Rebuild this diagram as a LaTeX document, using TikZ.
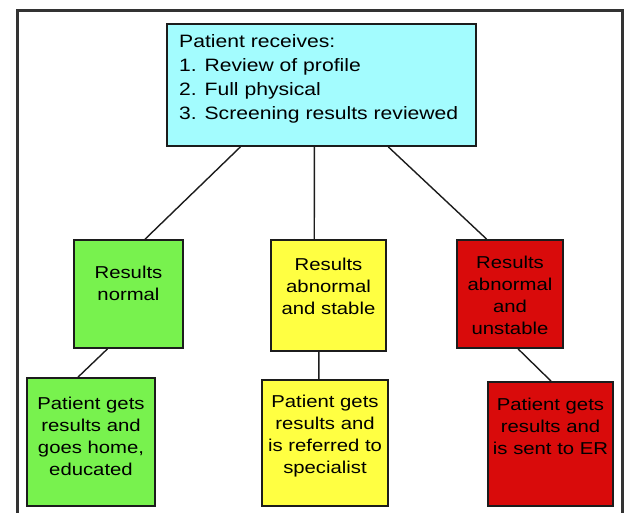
\documentclass[tikz,border=0pt]{standalone}
\usepackage{fontspec}
\setmainfont[FakeStretch=1.18]{Liberation Sans}
\usetikzlibrary{calc}
\definecolor{framegray}{HTML}{333333}
\definecolor{edgeblack}{HTML}{1C1C1C}
\definecolor{cyanfill}{HTML}{A3FCFE}
\definecolor{greenfill}{HTML}{78F24E}
\definecolor{yellowfill}{HTML}{FFFF42}
\definecolor{redfill}{HTML}{D90B0B}
\tikzset{
  box/.style={draw=edgeblack, line width=1.8pt, rectangle, inner sep=0pt},
  boxtext/.style={align=center, inner sep=0pt, text=black,
    font=\fontsize{17.2}{22}\selectfont},
  link/.style={draw=edgeblack, line width=1.4pt},
}
\begin{document}
\begin{tikzpicture}[x=1pt, y=-1pt]
  \useasboundingbox (0,0) rectangle (637,512);
  % open frame around the chart
  \draw[framegray, line width=3pt] (17,520) -- (17,10) -- (622,10) -- (622,520);

  % top box
  \node[box, fill=cyanfill, minimum width=309pt, minimum height=122pt] (top) at (321.5,85) {};
  \node[anchor=west, align=left, inner sep=0pt, text=black,
        font=\fontsize{17.9}{24}\selectfont] (toptext) at (179,79)
    {Patient receives:\\1. Review of profile\\2. Full physical\\3. Screening results reviewed};

  % outcome boxes
  \node[box, fill=greenfill, minimum width=109pt, minimum height=108pt] (g1) at (128.5,294) {};
  \node[box, fill=yellowfill, minimum width=115pt, minimum height=111pt] (y1) at (328.5,295.5) {};
  \node[box, fill=redfill, minimum width=106pt, minimum height=108pt] (r1) at (510,294) {};

  % follow-up boxes
  \node[box, fill=greenfill, minimum width=128pt, minimum height=128pt] (g2) at (91,442) {};
  \node[box, fill=yellowfill, minimum width=126pt, minimum height=126pt] (y2) at (325,443) {};
  \node[box, fill=redfill, minimum width=125pt, minimum height=124pt] (r2) at (550.5,444) {};

  % texts
  \node[boxtext] (g1t) at (128.5,283) {Results\\normal};
  \node[boxtext] (y1t) at (328.5,286) {Results\\abnormal\\and stable};
  \node[boxtext] (r1t) at (510,295.5) {Results\\abnormal\\and\\unstable};
  \node[boxtext] (g2t) at (91,436.5) {Patient gets\\results and\\goes home,\\educated};
  \node[boxtext] (y2t) at (325,436.5) {Patient gets\\results and\\is referred to\\specialist};
  \node[boxtext] (r2t) at (550.5,426.5) {Patient gets\\results and\\is sent to ER};

  % connectors
  \draw[link] ($(top.south west)!0.239!(top.south east)$) -- ($(g1.north west)!0.65!(g1.north east)$);
  \draw[link] ($(top.south west)!0.4773!(top.south east)$) -- ($(y1.north west)!0.378!(y1.north east)$);
  \draw[link] ($(top.south west)!0.715!(top.south east)$) -- ($(r1.north west)!0.283!(r1.north east)$);
  \draw[link] ($(g1.south west)!0.31!(g1.south east)$) -- ($(g2.north west)!0.4!(g2.north east)$);
  \draw[link] ($(y1.south west)!0.417!(y1.south east)$) -- ($(y2.north west)!0.452!(y2.north east)$);
  \draw[link] ($(r1.south west)!0.575!(r1.south east)$) -- ($(r2.north west)!0.504!(r2.north east)$);
\end{tikzpicture}
\end{document}
